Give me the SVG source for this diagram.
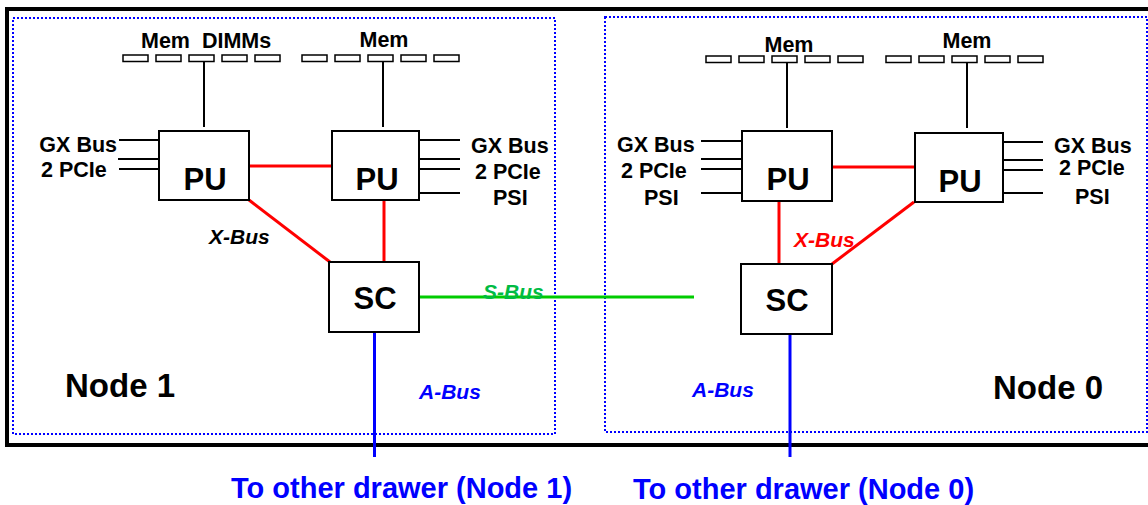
<svg xmlns="http://www.w3.org/2000/svg" width="1148" height="505" viewBox="0 0 1148 505">
<style>
text{font-family:"Liberation Sans",Arial,sans-serif;font-weight:bold}
.box{fill:#fff;stroke:#000;stroke-width:2}
.mem{fill:#fff;stroke:#000;stroke-width:1.5}
.blk{stroke:#000;stroke-width:2;fill:none}
.red{stroke:#ff0000;stroke-width:3;fill:none}
.blue{stroke:#0000ff;stroke-width:3;fill:none}
.green{stroke:#00cc00;stroke-width:3;fill:none}
.dot{fill:none;stroke:#0000ff;stroke-width:2;stroke-dasharray:2 2}
.lbl{font-size:21.5px;fill:#000}
.big{font-size:31px;fill:#000}
.node{font-size:33px;fill:#000}
.it{font-style:italic;font-size:21px}
.to{font-size:29px;fill:#0000ff}
</style>
<rect x="0" y="0" width="1148" height="505" fill="#fff"/>
<rect x="7" y="9" width="1150" height="436" fill="none" stroke="#000" stroke-width="4"/>
<rect class="dot" x="13" y="18" width="542" height="416"/>
<rect class="dot" x="605" y="17" width="542" height="415"/>

<g id="connectors">
  <line class="blk" x1="204" y1="61" x2="204" y2="127"/>
  <line class="blk" x1="383" y1="61" x2="383" y2="127"/>
  <line class="blk" x1="787" y1="62" x2="787" y2="128"/>
  <line class="blk" x1="967" y1="62" x2="967" y2="128"/>
  <line class="blk" x1="119" y1="140" x2="159" y2="140"/>
  <line class="blk" x1="118" y1="159" x2="159" y2="159"/>
  <line class="blk" x1="119" y1="169" x2="159" y2="169"/>
  <line class="blk" x1="419" y1="140" x2="460" y2="140"/>
  <line class="blk" x1="419" y1="159" x2="460" y2="159"/>
  <line class="blk" x1="419" y1="169" x2="460" y2="169"/>
  <line class="blk" x1="419" y1="193" x2="460" y2="193"/>
  <line class="blk" x1="701" y1="141" x2="742" y2="141"/>
  <line class="blk" x1="701" y1="159" x2="742" y2="159"/>
  <line class="blk" x1="701" y1="169" x2="742" y2="169"/>
  <line class="blk" x1="701" y1="193" x2="742" y2="193"/>
  <line class="blk" x1="1003" y1="142" x2="1043" y2="142"/>
  <line class="blk" x1="1003" y1="160" x2="1043" y2="160"/>
  <line class="blk" x1="1003" y1="170" x2="1043" y2="170"/>
  <line class="blk" x1="1003" y1="193" x2="1043" y2="193"/>
  <line class="red" x1="249" y1="166" x2="331" y2="166"/>
  <line class="red" x1="249" y1="200" x2="330" y2="262"/>
  <line class="red" x1="384" y1="200" x2="384" y2="262"/>
  <line class="red" x1="832" y1="167" x2="915" y2="167"/>
  <line class="red" x1="779" y1="201" x2="779" y2="264"/>
  <line class="red" x1="832" y1="264" x2="914" y2="202"/>
  <line class="green" x1="419" y1="297" x2="694" y2="297"/>
  <line class="blue" x1="374.5" y1="328" x2="374.5" y2="457"/>
  <line class="blue" x1="790" y1="334" x2="790" y2="457"/>
</g>

<g id="mem1">
  <rect class="mem" x="123" y="55" width="25" height="6.5"/>
  <rect class="mem" x="156" y="55" width="25" height="6.5"/>
  <rect class="mem" x="189" y="55" width="25" height="6.5"/>
  <rect class="mem" x="222" y="55" width="25" height="6.5"/>
  <rect class="mem" x="255" y="55" width="25" height="6.5"/>
  <text class="lbl" x="141" y="48" xml:space="preserve">Mem  DIMMs</text>
</g>
<g id="mem2">
  <rect class="mem" x="302" y="55" width="25" height="6.5"/>
  <rect class="mem" x="335" y="55" width="25" height="6.5"/>
  <rect class="mem" x="368" y="55" width="25" height="6.5"/>
  <rect class="mem" x="401" y="55" width="25" height="6.5"/>
  <rect class="mem" x="434" y="55" width="25" height="6.5"/>
  <text class="lbl" x="384" y="47" text-anchor="middle">Mem</text>
</g>
<g id="mem3">
  <rect class="mem" x="706" y="56" width="25" height="6.5"/>
  <rect class="mem" x="739" y="56" width="25" height="6.5"/>
  <rect class="mem" x="772" y="56" width="25" height="6.5"/>
  <rect class="mem" x="805" y="56" width="25" height="6.5"/>
  <rect class="mem" x="838" y="56" width="25" height="6.5"/>
  <text class="lbl" x="789" y="52" text-anchor="middle">Mem</text>
</g>
<g id="mem4">
  <rect class="mem" x="886" y="56" width="25" height="6.5"/>
  <rect class="mem" x="919" y="56" width="25" height="6.5"/>
  <rect class="mem" x="952" y="56" width="25" height="6.5"/>
  <rect class="mem" x="985" y="56" width="25" height="6.5"/>
  <rect class="mem" x="1018" y="56" width="25" height="6.5"/>
  <text class="lbl" x="967" y="48" text-anchor="middle">Mem</text>
</g>

<g id="pu1">
  <rect class="box" x="159" y="131" width="90" height="69"/>
  <text class="big" x="205" y="190" text-anchor="middle">PU</text>
</g>
<g id="pu2">
  <rect class="box" x="332" y="131" width="87" height="69"/>
  <text class="big" x="377" y="190" text-anchor="middle">PU</text>
</g>
<g id="pu3">
  <rect class="box" x="742" y="131" width="90" height="70"/>
  <text class="big" x="788" y="190" text-anchor="middle">PU</text>
</g>
<g id="pu4">
  <rect class="box" x="915" y="133" width="88" height="69"/>
  <text class="big" x="960" y="192" text-anchor="middle">PU</text>
</g>
<g id="sc1">
  <rect class="box" x="329" y="262" width="90" height="70"/>
  <text class="big" x="375" y="309" text-anchor="middle">SC</text>
</g>
<g id="sc2">
  <rect class="box" x="741" y="264" width="91" height="70"/>
  <text class="big" x="787" y="311" text-anchor="middle">SC</text>
</g>

<g id="labels">
  <text class="lbl" x="117" y="152" text-anchor="end">GX Bus</text>
  <text class="lbl" x="41" y="177">2 PCIe</text>
  <text class="lbl" x="471" y="153">GX Bus</text>
  <text class="lbl" x="475" y="179">2 PCIe</text>
  <text class="lbl" x="493" y="205">PSI</text>
  <text class="lbl" x="617" y="152">GX Bus</text>
  <text class="lbl" x="621" y="178">2 PCIe</text>
  <text class="lbl" x="644" y="205">PSI</text>
  <text class="lbl" x="1054" y="153">GX Bus</text>
  <text class="lbl" x="1059" y="175">2 PCIe</text>
  <text class="lbl" x="1075" y="204">PSI</text>
  <text class="it" x="209" y="244" fill="#000">X-Bus</text>
  <text class="it" x="794" y="247" fill="#ff0000">X-Bus</text>
  <text class="it" x="483" y="299" fill="#00bb44" font-size="22">S-Bus</text>
  <text class="it" x="419" y="399" fill="#0000ff">A-Bus</text>
  <text class="it" x="692" y="397" fill="#0000ff">A-Bus</text>
  <text class="node" x="65" y="397">Node 1</text>
  <text class="node" x="993" y="399">Node 0</text>
  <text class="to" x="231" y="498">To other drawer (Node 1)</text>
  <text class="to" x="633" y="499">To other drawer (Node 0)</text>
</g>
</svg>
